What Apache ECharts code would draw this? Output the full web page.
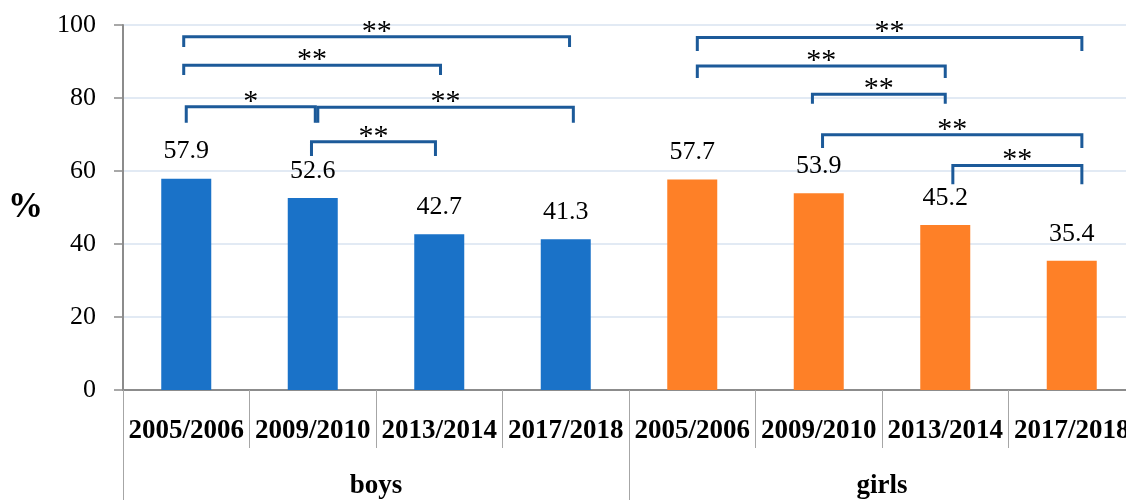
<!DOCTYPE html>
<html>
<head>
<meta charset="utf-8">
<title>boys / girls</title>
<script src="https://cdn.jsdelivr.net/npm/echarts@6/dist/echarts.min.js"></script>
<style>
  html, body { margin: 0; padding: 0; background: #fff; }
  #main { width: 1126px; height: 500px; }
</style>
</head>
<body>
<div id="main"></div>
<script type="text/javascript">
    // data
    var years = ['2005/2006', '2009/2010', '2013/2014', '2017/2018'];
    var groups = ['boys', 'girls'];
    var boysValues = [57.9, 52.6, 42.7, 41.3];
    var girlsValues = [57.7, 53.9, 45.2, 35.4];
    var yTicks = [0, 20, 40, 60, 80, 100];

    // significance brackets: [from category, to category, line level, tick bottom level, label]
    var brackets = [
        [-0.02, 3.03, 96.8, 94.0, '**'],
        [-0.02, 2.01, 89.0, 86.3, '**'],
        [0.0, 1.02, 77.6, 73.2, '*'],
        [1.04, 3.06, 77.5, 73.2, '**'],
        [0.99, 1.97, 68.0, 64.1, '**'],
        [4.04, 7.08, 96.6, 92.9, '**'],
        [4.04, 6.0, 88.8, 85.5, '**'],
        [4.95, 6.0, 81.0, 78.4, '**'],
        [5.03, 7.08, 69.9, 66.3, '**'],
        [6.06, 7.08, 61.5, 56.4, '**']
    ];

    var colors = ['#1a72c8', '#fe8027'];
    var serif = '"Liberation Serif", "Times New Roman", serif';

    var categories = years.concat(years);
    var barData = boysValues.map(function (v) {
        return { value: v, itemStyle: { color: colors[0] } };
    }).concat(girlsValues.map(function (v) {
        return { value: v, itemStyle: { color: colors[1] } };
    }));

    var myChart = echarts.init(document.getElementById('main'));
    myChart.setOption({
        animation: false,
        grid: {
            left: 123, top: 25, width: 1012, height: 365,
            containLabel: false, outerBoundsMode: 'none'
        },
        xAxis: [{
            type: 'category',
            data: categories,
            position: 'bottom',
            axisLine: { lineStyle: { color: '#8c8c8c', width: 2 } },
            axisTick: { show: true, interval: 0, length: 58, lineStyle: { color: '#a6a6a6', width: 1 } },
            axisLabel: {
                interval: 0, hideOverlap: false, margin: 28,
                fontFamily: serif, fontSize: 27, fontWeight: 'bold', color: '#000'
            }
        }, {
            type: 'category',
            data: groups,
            position: 'bottom',
            axisLine: { show: false },
            axisTick: { show: true, interval: 0, length: 115, lineStyle: { color: '#a6a6a6', width: 1 } },
            axisLabel: {
                interval: 0, margin: 83,
                fontFamily: serif, fontSize: 27, fontWeight: 'bold', color: '#000'
            }
        }],
        yAxis: {
            type: 'value',
            min: yTicks[0],
            max: yTicks[yTicks.length - 1],
            interval: 20,
            name: '%',
            nameLocation: 'middle',
            nameRotate: 0,
            nameGap: 80,
            nameTextStyle: { fontFamily: serif, fontSize: 35, fontWeight: 'bold', color: '#000' },
            axisLine: { show: true, lineStyle: { color: '#8c8c8c', width: 2 } },
            axisTick: { show: true, length: 9, lineStyle: { color: '#8c8c8c', width: 1.5 } },
            axisLabel: { margin: 27, fontFamily: serif, fontSize: 26, color: '#000' },
            splitLine: { show: true, lineStyle: { color: '#d8e3f1', width: 1.5 } }
        },
        series: [{
            type: 'bar',
            xAxisIndex: 0,
            yAxisIndex: 0,
            barWidth: 50,
            data: barData,
            label: {
                show: true,
                position: 'top',
                distance: 14,
                fontFamily: serif,
                fontSize: 26,
                color: '#000'
            }
        }, {
            type: 'custom',
            xAxisIndex: 0,
            yAxisIndex: 0,
            clip: false,
            silent: true,
            data: brackets.map(function (b) { return [0, b[2]]; }),
            renderItem: function (params, api) {
                var b = brackets[params.dataIndex];
                var band = api.size([1, 0])[0];
                var x0 = api.coord([0, 0])[0];
                var xa = x0 + b[0] * band;
                var xb = x0 + b[1] * band;
                var yTop = api.coord([0, b[2]])[1];
                var yBot = api.coord([0, b[3]])[1];
                return {
                    type: 'group',
                    children: [{
                        type: 'polyline',
                        shape: { points: [[xa, yBot], [xa, yTop], [xb, yTop], [xb, yBot]] },
                        style: { stroke: '#1c5a99', lineWidth: 3, fill: null }
                    }, {
                        type: 'text',
                        style: {
                            text: b[4],
                            x: (xa + xb) / 2,
                            y: yTop - 5,
                            align: 'center',
                            verticalAlign: 'middle',
                            font: '30px ' + serif,
                            fill: '#000'
                        }
                    }]
                };
            }
        }]
    });
</script>
</body>
</html>
